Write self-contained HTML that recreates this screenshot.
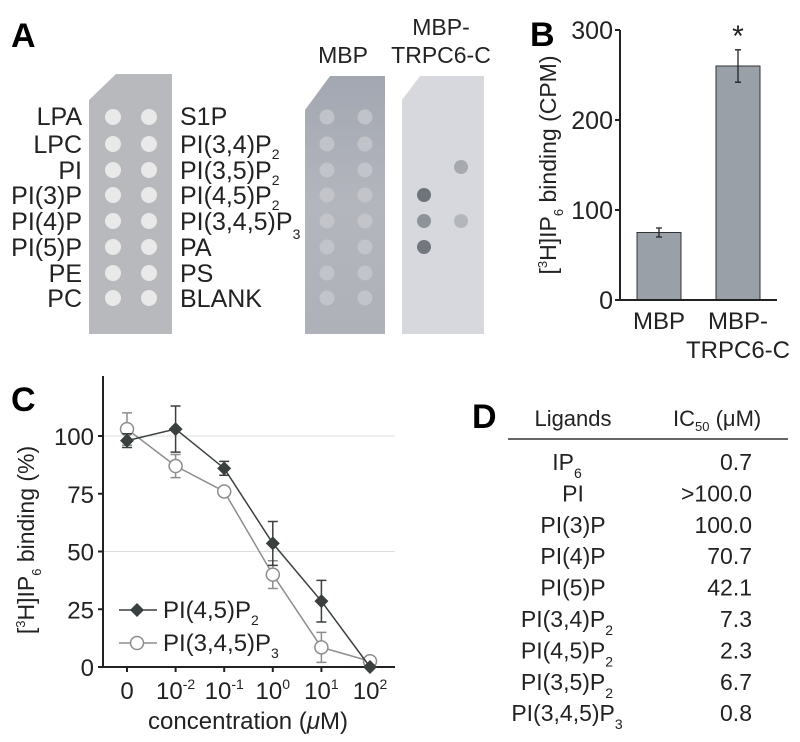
<!DOCTYPE html>
<html><head><meta charset="utf-8"><style>
html,body{margin:0;padding:0;background:#fff}
svg{display:block;font-family:"Liberation Sans",Arial,sans-serif}
</style></head><body>
<svg id="fig" width="800" height="742" viewBox="0 0 800 742">
<defs>
<radialGradient id="dotL"><stop offset="0" stop-color="#cfd1d6"/><stop offset="1" stop-color="#b9bcc3"/></radialGradient>
<linearGradient id="mbpG" x1="0" y1="0" x2="0" y2="1"><stop offset="0" stop-color="#a3a7b1"/><stop offset="0.5" stop-color="#b3b6bd"/><stop offset="1" stop-color="#aeb1b8"/></linearGradient>
</defs>
<g>
<text x="11" y="47" font-size="34" font-weight="bold">A</text>
<path d="M89 100 L116 74 L172 74 L172 334 L89 334 Z" fill="#b8b9bc"/>
<g id="dots"></g>
<g font-size="25" text-anchor="end" fill="#222">
<text x="82" y="125">LPA</text><text x="82" y="153">LPC</text><text x="82" y="179">PI</text><text x="82" y="204">PI(3)P</text><text x="82" y="230">PI(4)P</text><text x="82" y="256">PI(5)P</text><text x="82" y="282">PE</text><text x="82" y="307">PC</text>
</g>
<g font-size="25" fill="#222">
<text x="180" y="125">S1P</text>
<text x="180" y="153">PI(3,4)P<tspan font-size="14" dy="6">2</tspan></text>
<text x="180" y="179">PI(3,5)P<tspan font-size="14" dy="6">2</tspan></text>
<text x="180" y="204">PI(4,5)P<tspan font-size="14" dy="6">2</tspan></text>
<text x="180" y="230">PI(3,4,5)P<tspan font-size="14" dy="9">3</tspan></text>
<text x="180" y="256">PA</text><text x="180" y="282">PS</text><text x="180" y="307">BLANK</text>
</g>
<text x="343" y="63" font-size="23" text-anchor="middle" fill="#222">MBP</text>
<text x="441" y="35" font-size="23" text-anchor="middle" fill="#222">MBP-</text>
<text x="441" y="63" font-size="23" text-anchor="middle" fill="#222">TRPC6-C</text>
<path d="M305 110 L330 76 L385 76 L385 334 L305 334 Z" fill="url(#mbpG)"/>
<path d="M402 100 L420 76 L484 76 L484 334 L402 334 Z" fill="#d6d8dd"/>
<g id="blotdots"></g>
</g>
<g>
<text x="530" y="46" font-size="34" font-weight="bold">B</text>
<g id="chartB"></g>
</g>
<g>
<text x="11" y="411" font-size="34" font-weight="bold">C</text>
<g id="chartC"></g>
</g>
<g>
<text x="472" y="428" font-size="34" font-weight="bold">D</text>
<text x="573" y="426" font-size="22" text-anchor="middle" fill="#222">Ligands</text>
<text x="673" y="426" font-size="22" fill="#222">IC<tspan font-size="13" dy="5">50</tspan><tspan dy="-5"> (μM)</tspan></text>
<line x1="508" y1="439" x2="788" y2="439" stroke="#333" stroke-width="1.5"/>
<g id="tableD" font-size="23" fill="#222"></g>
</g>
</svg>
<script>
const NS='http://www.w3.org/2000/svg';
function mk(tag,attrs,parent){const e=document.createElementNS(NS,tag);for(const k in attrs)e.setAttribute(k,attrs[k]);parent.appendChild(e);return e;}
const rowsY=[117,144,170,195,221,247,273,298];
const dots=document.getElementById('dots');
rowsY.forEach(y=>{[113,149].forEach(x=>{const c=mk('circle',{cx:x,cy:y,r:8,fill:'#e9e9ea'},dots);

});});
const bd=document.getElementById('blotdots');
rowsY.forEach((y,i)=>{[327,365].forEach(x=>{mk('circle',{cx:x,cy:y,r:7.5,fill:'#c4c7cd',opacity:0.85},bd);});});
const darkSpots=[[424,195,'#6f737a'],[424,221,'#8e9299'],[424,247,'#72767d'],[461,167,'#a6a9af'],[461,221,'#b3b6bb']];
darkSpots.forEach(s=>{const c=mk('circle',{cx:s[0],cy:s[1],r:7,fill:s[2]},bd);

});

// Chart B
const bCategories=['MBP','MBP-TRPC6-C'];
const bValues=[75,260];
const bErrors=[5,18];
const bTicks=[0,100,200,300];
(function(){
 const g=document.getElementById('chartB');
 const x0=620,y0=300,scale=270/300;
 const Y=v=>y0-v*scale;
 const barX=[637,716],bw=44;
 bValues.forEach((v,i)=>{
  const r=mk('rect',{x:barX[i],y:Y(v),width:bw,height:y0-Y(v),fill:'#9aa0a8',stroke:'#333','stroke-width':1},g);
  
  
  const cx=barX[i]+bw/2,e=bErrors[i];
  mk('path',{d:`M${cx} ${Y(v+e)}V${Y(v-e)}M${cx-3} ${Y(v+e)}H${cx+3}M${cx-3} ${Y(v-e)}H${cx+3}`,stroke:'#222','stroke-width':1.3,fill:'none'},g);
 });
 const st=mk('text',{x:barX[1]+bw/2,y:Y(bValues[1]+bErrors[1])-4,'font-size':30,'text-anchor':'middle',fill:'#222'},g);st.textContent='*';
 
 
 mk('path',{d:`M${x0} ${Y(300)}V${y0}H777`,stroke:'#222','stroke-width':2,fill:'none'},g);
 bTicks.forEach(t=>{mk('line',{x1:x0-5,y1:Y(t),x2:x0,y2:Y(t),stroke:'#222','stroke-width':2},g);
  const tx=mk('text',{x:x0-7,y:Y(t)+9,'font-size':25,'text-anchor':'end',fill:'#222'},g);tx.textContent=t;
  
  });
 const l1=mk('text',{x:659,y:329,'font-size':24,'text-anchor':'middle',fill:'#222'},g);l1.textContent='MBP';
 
 
 const l2=mk('text',{x:738,y:329,'font-size':24,'text-anchor':'middle',fill:'#222'},g);l2.textContent='MBP-';
 
 
 const l3=mk('text',{x:738,y:358,'font-size':24,'text-anchor':'middle',fill:'#222'},g);l3.textContent='TRPC6-C';
 
 
 const yl=mk('text',{transform:'translate(556,165) rotate(-90)','font-size':23,'text-anchor':'middle',fill:'#222'},g);
 yl.innerHTML='[<tspan font-size="13" dy="-9">3</tspan><tspan dy="9">H]IP</tspan><tspan font-size="13" dy="7">6</tspan><tspan dy="-7"> binding (CPM)</tspan>';
 
 
})();

// Chart C
const cCategories=['0','10^-2','10^-1','10^0','10^1','10^2'];
const pip2Values=[98,103,86,53.5,28.5,0];
const pip2Errors=[3,10,3,9.5,9,0];
const pip3Values=[103,87,76,40,8.5,2.5];
const pip3Errors=[7,5,1,6,6.5,0];
const cTicks=[0,25,50,75,100];
(function(){
 const g=document.getElementById('chartC');
 const x0=103,y0=667,scale=231/100;
 const Y=v=>y0-v*scale;
 const X=i=>127+i*48.6;
 [50,100].forEach(t=>mk('line',{x1:x0,y1:Y(t),x2:395,y2:Y(t),stroke:'#ddd','stroke-width':1},g));
 mk('path',{d:`M${x0} 376V${y0}H395`,stroke:'#222','stroke-width':2,fill:'none'},g);
 cTicks.forEach(t=>{mk('line',{x1:x0-5,y1:Y(t),x2:x0,y2:Y(t),stroke:'#222','stroke-width':2},g);
  const tx=mk('text',{x:x0-9,y:Y(t)+9,'font-size':24,'text-anchor':'end',fill:'#222'},g);tx.textContent=t;
  
  });
 cCategories.forEach((c,i)=>{
  mk('line',{x1:X(i),y1:y0,x2:X(i),y2:y0+5,stroke:'#222','stroke-width':2},g);
  const tx=mk('text',{x:X(i),y:y0+32,'font-size':24,'text-anchor':'middle',fill:'#222'},g);
  if(c==='0')tx.textContent='0';else{const p=c.split('^');tx.innerHTML='10<tspan font-size="14" dy="-10">'+p[1]+'</tspan>';}
  
  
 });
 function series(vals,errs,color,filled,name){
  const pts=vals.map((v,i)=>X(i)+','+Y(v)).join(' ');
  const pl=mk('polyline',{points:pts,fill:'none',stroke:color,'stroke-width':1.5},g);
  
  
  vals.forEach((v,i)=>{const e=errs[i],cx=X(i);
   if(e>0)mk('path',{d:`M${cx} ${Y(v+e)}V${Y(v-e)}M${cx-5} ${Y(v+e)}H${cx+5}M${cx-5} ${Y(v-e)}H${cx+5}`,stroke:color,'stroke-width':1.5,fill:'none'},g);});
  vals.forEach((v,i)=>{const cx=X(i),cy=Y(v);let m;
   if(filled)m=mk('path',{d:`M${cx} ${cy-7}L${cx+7} ${cy}L${cx} ${cy+7}L${cx-7} ${cy}Z`,fill:color},g);
   else m=mk('circle',{cx:cx,cy:cy,r:6.5,fill:'#fff',stroke:color,'stroke-width':1.5},g);
   
   });
 }
 series(pip3Values,pip3Errors,'#8d8d8d',false,'pip3');
 series(pip2Values,pip2Errors,'#3a403f',true,'pip2');
 mk('line',{x1:119,y1:610,x2:157,y2:610,stroke:'#3a403f','stroke-width':1.5},g);
 mk('path',{d:'M137 603L144 610L137 617L130 610Z',fill:'#3a403f'},g);
 const lt1=mk('text',{x:163,y:618,'font-size':24,fill:'#222'},g);lt1.innerHTML='PI(4,5)P<tspan font-size="14" dy="7">2</tspan>';
 
 
 mk('line',{x1:119,y1:643,x2:157,y2:643,stroke:'#8d8d8d','stroke-width':1.5},g);
 mk('circle',{cx:137,cy:643,r:6.5,fill:'#fff',stroke:'#8d8d8d','stroke-width':1.5},g);
 const lt2=mk('text',{x:163,y:651,'font-size':24,fill:'#222'},g);lt2.innerHTML='PI(3,4,5)P<tspan font-size="14" dy="7">3</tspan>';
 
 
 const xt=mk('text',{x:248,y:729,'font-size':24,'text-anchor':'middle',fill:'#222'},g);xt.innerHTML='concentration (<tspan font-style="italic">μ</tspan>M)';
 
 
 const yl=mk('text',{transform:'translate(34,540) rotate(-90)','font-size':23,'text-anchor':'middle',fill:'#222'},g);
 yl.innerHTML='[<tspan font-size="13" dy="-9">3</tspan><tspan dy="9">H]IP</tspan><tspan font-size="13" dy="7">6</tspan><tspan dy="-7"> binding (%)</tspan>';
 
 
})();

// Table D
const ligandNames=['IP|6','PI','PI(3)P','PI(4)P','PI(5)P','PI(3,4)P|2','PI(4,5)P|2','PI(3,5)P|2','PI(3,4,5)P|3'];
const ic50Values=['0.7','>100.0','100.0','70.7','42.1','7.3','2.3','6.7','0.8'];
(function(){
 const g=document.getElementById('tableD');
 ligandNames.forEach((n,i)=>{
  const y=470+i*31.4;const p=n.split('|');
  const t=mk('text',{x:p[1]?567:573,y:y,'text-anchor':'middle'},g);
  t.innerHTML=p[0]+(p[1]?'<tspan font-size="14" dy="8">'+p[1]+'</tspan>':'');
  
  
  const v=mk('text',{x:752,y:y,'text-anchor':'end'},g);v.textContent=ic50Values[i];
  
  
 });
})();
</script>
</body></html>
